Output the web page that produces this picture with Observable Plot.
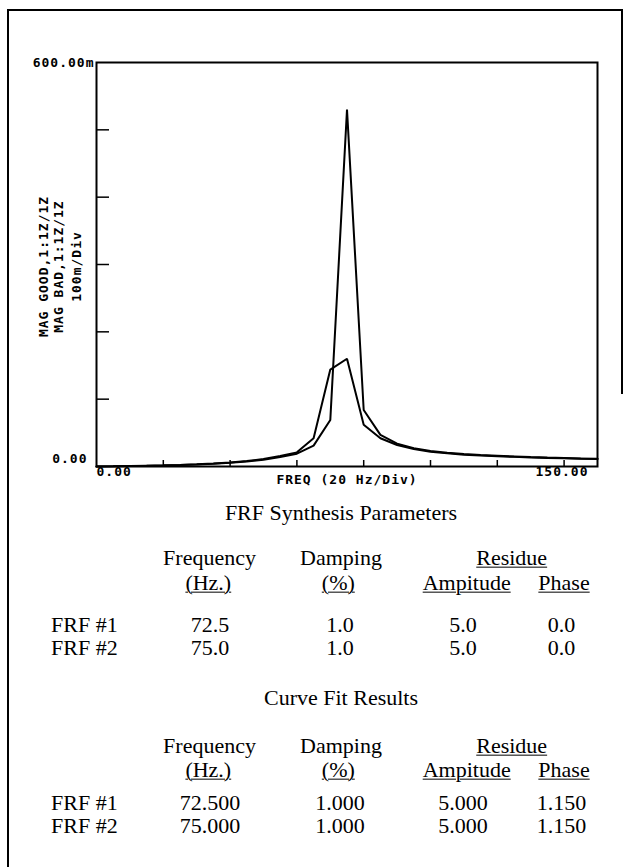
<!DOCTYPE html>
<html><head><meta charset="utf-8">
<script src="https://cdn.jsdelivr.net/npm/d3@7"></script>
<script src="https://cdn.jsdelivr.net/npm/@observablehq/plot@0.6"></script>
<style>
html,body{margin:0;padding:0;background:#fff;}
#page{position:relative;width:626px;height:867px;overflow:hidden;background:#fff;}
#chart{position:absolute;left:0;top:0;}
.bl{position:absolute;background:#000;}
.t{position:absolute;font-family:"Liberation Serif","Times New Roman",serif;font-size:22px;color:#000;white-space:nowrap;line-height:0.85;transform:translate(-50%,-50%);}
.t.l{transform:translate(0,-50%);}
.u{text-decoration:underline;text-underline-offset:2px;text-decoration-thickness:1px;}
</style></head><body>
<div id="page">
  <div class="bl" style="left:7px;top:9px;width:2px;height:858px"></div>
  <div class="bl" style="left:7px;top:9px;width:615px;height:2px"></div>
  <div class="bl" style="left:621px;top:9px;width:1.5px;height:385px"></div>
  <div id="chart"></div>
</div>
<script>
// Frequency samples (Hz) and magnitudes (m units, i.e. milli)
const freq = [0,5,10,15,20,25,30,35,40,45,50,55,60,65,70,75,80,85,90,95,100,105,110,115,120,125,130,135,140,145,150];
const magGood = [0,0.3,0.7,1.1,1.6,2.2,3,4,5.5,7.5,10,14,19,31,69,530,84,47,34,27,23,20.5,18.5,17,16,15,14,13.3,12.7,12,11.5];
const magBad  = [0,0.3,0.7,1.2,1.7,2.4,3.2,4.3,6,8,11,15.5,21,42,144,160,62,42,32,26,22,19.5,17.5,16.2,15.2,14.3,13.5,12.8,12.2,11.6,11];

const yTicks = [100,200,300,400,500];
const xTicks = [20,40,60,80,100,120,140];
const yLabelValues = [0, 600];
const yLabelTexts = ["0.00", "600.00m"];
const xLabelValues = [0, 150];
const xLabelTexts = ["0.00", "150.00"];
const xTitle = "FREQ (20 Hz/Div)";
const yTitleLines = ["MAG GOOD,1:1Z/1Z", "MAG BAD,1:1Z/1Z", "100m/Div"];

// Tables
const synTitle = "FRF Synthesis Parameters";
const fitTitle = "Curve Fit Results";
const frfNames = ["FRF #1", "FRF #2"];
const synFreq = ["72.5", "75.0"];
const synDamp = ["1.0", "1.0"];
const synAmp = ["5.0", "5.0"];
const synPhase = ["0.0", "0.0"];
const fitFreq = ["72.500", "75.000"];
const fitDamp = ["1.000", "1.000"];
const fitAmp = ["5.000", "5.000"];
const fitPhase = ["1.150", "1.150"];

const chart = Plot.plot({
  width: 626, height: 500,
  marginLeft: 96, marginRight: 29, marginTop: 62, marginBottom: 34,
  x: {domain: [0, 150]},
  y: {domain: [0, 600]},
  style: {fontFamily: "'DejaVu Sans Mono', monospace", fontWeight: "bold", fontSize: "13px", background: "none", color: "black", overflow: "visible"},
  marks: [
    Plot.axisY(yTicks, {tickSize: -13, fill: "none", label: null, stroke: "black", strokeWidth: 1.5}),
    Plot.axisX(xTicks, {tickSize: -6, fill: "none", label: null, stroke: "black", strokeWidth: 1.5}),
    Plot.line(freq, {x: freq, y: magBad, stroke: "black", strokeWidth: 2, strokeLinejoin: "miter"}),
    Plot.line(freq, {x: freq, y: magGood, stroke: "black", strokeWidth: 2, strokeLinejoin: "miter"}),
    Plot.frame({stroke: "black", strokeWidth: 2}),
    Plot.text([yLabelTexts[1]], {y: yLabelValues[1], text: d => d, frameAnchor: "left", textAnchor: "end", dx: -2, fill: "black"}),
    Plot.text([yLabelTexts[0]], {y: yLabelValues[0], text: d => d, frameAnchor: "left", textAnchor: "end", dx: -9, dy: -8, fill: "black"}),
    Plot.text([xLabelTexts[0]], {x: xLabelValues[0], text: d => d, frameAnchor: "bottom", textAnchor: "start", dy: 9, fill: "black"}),
    Plot.text([xLabelTexts[1]], {x: xLabelValues[1], text: d => d, frameAnchor: "bottom", textAnchor: "end", dx: -9, dy: 9, fill: "black"}),
    Plot.text([xTitle], {text: d => d, frameAnchor: "bottom", dy: 17, fill: "black"}),
    Plot.text([yTitleLines[0]], {text: d => d, frameAnchor: "left", textAnchor: "middle", dx: -53, dy: 2, rotate: -90, fill: "black"}),
    Plot.text([yTitleLines[1]], {text: d => d, frameAnchor: "left", textAnchor: "middle", dx: -37.5, dy: 2, rotate: -90, fill: "black"}),
    Plot.text([yTitleLines[2]], {text: d => d, frameAnchor: "left", textAnchor: "middle", dx: -20, dy: 2, rotate: -90, fill: "black"})
  ]
});
chart.style.letterSpacing = "1px";
document.getElementById("chart").appendChild(chart);

// Tables as HTML text
const page = document.getElementById("page");
function put(txt, x, y, cls) {
  const s = document.createElement("span");
  s.className = "t" + (cls ? " " + cls : "");
  s.textContent = txt;
  s.style.left = x + "px";
  s.style.top = y + "px";
  page.appendChild(s);
}
function table(title, ty, hy1, hy2, ry, fq, dp, am, ph) {
  put(title, 341, ty);
  put("Frequency", 209.5, hy1);
  put("Damping", 341, hy1);
  put("Residue", 511.7, hy1, "u");
  put("(Hz.)", 208.3, hy2, "u");
  put("(%)", 338.3, hy2, "u");
  put("Ampitude", 466.7, hy2, "u");
  put("Phase", 564, hy2, "u");
  frfNames.forEach((n, i) => {
    const y = ry[i];
    put(n, 51, y, "l");
    put(fq[i], 210, y);
    put(dp[i], 340, y);
    put(am[i], 463, y);
    put(ph[i], 561.5, y);
  });
}
table(synTitle, 513, 558, 583, [625, 648], synFreq, synDamp, synAmp, synPhase);
table(fitTitle, 698, 746, 770, [803, 826], fitFreq, fitDamp, fitAmp, fitPhase);
</script>
</body></html>
